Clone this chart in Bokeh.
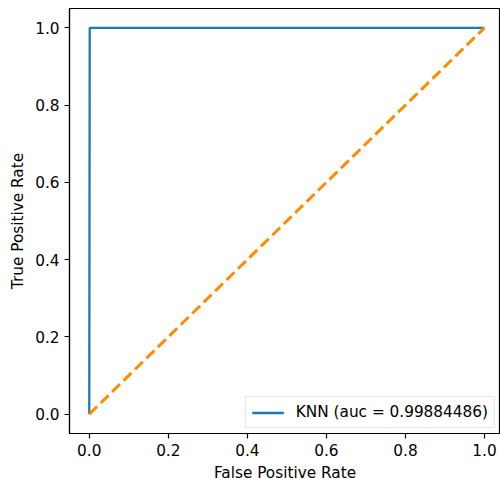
from bokeh.plotting import figure
from bokeh.models import FixedTicker, Range1d, Legend, LegendItem, CustomJSTickFormatter
from bokeh.embed import file_html
from bokeh.resources import INLINE

fpr = [0.0, 0.00115, 1.0]
tpr = [0.0, 1.0, 1.0]
diag_x = [0.0, 1.0]
diag_y = [0.0, 1.0]
ticks = [0.0, 0.2, 0.4, 0.6, 0.8, 1.0]
label = "KNN (auc = 0.99884486)"

FONT = "DejaVu Sans"
FS = "15.3px"

p = figure(width=500, height=485, output_backend="svg", toolbar_location=None,
           x_range=Range1d(-0.05, 1.0405), y_range=Range1d(-0.05, 1.05),
           min_border_left=69, min_border_right=0, min_border_top=8, min_border_bottom=52)
p.xgrid.visible = False
p.ygrid.visible = False
p.background_fill_color = "white"
p.border_fill_color = "white"
p.outline_line_color = "black"
p.outline_line_width = 1.2

for ax in (p.xaxis[0], p.yaxis[0]):
    ax.ticker = FixedTicker(ticks=ticks)
    ax.major_tick_in = 0
    ax.major_tick_out = 5
    ax.minor_tick_out = 0
    ax.minor_tick_in = 0
    ax.axis_line_color = "black"
    ax.axis_line_width = 1.2
    ax.major_tick_line_width = 1.2
    ax.major_label_text_font = FONT
    ax.major_label_text_font_size = FS
    ax.major_label_text_color = "black"
    ax.axis_label_text_font = FONT
    ax.axis_label_text_font_size = FS
    ax.axis_label_text_font_style = "normal"
    ax.axis_label_text_color = "black"
    ax.major_label_standoff = 5
    ax.axis_label_standoff = 5
    ax.formatter = CustomJSTickFormatter(code="return tick.toFixed(1);")

p.xaxis.axis_label = "False Positive Rate"
p.yaxis.axis_label = "True Positive Rate"

r1 = p.line(fpr, tpr, line_color="#1f77b4", line_width=2.3)
p.line(diag_x, diag_y, line_color="#ff8c00", line_width=3, line_dash="11 5")

legend = Legend(items=[LegendItem(label=label, renderers=[r1])], location="bottom_right")
legend.margin = 5
legend.padding = 6
legend.glyph_width = 32
legend.glyph_height = 17
legend.label_standoff = 12
legend.label_text_font = FONT
legend.label_text_font_size = FS
legend.label_text_color = "black"
legend.border_line_color = "#cccccc"
legend.border_line_width = 1
legend.background_fill_alpha = 0.8
p.add_layout(legend, "center")

open("out.html", "w").write(file_html(p, INLINE))
